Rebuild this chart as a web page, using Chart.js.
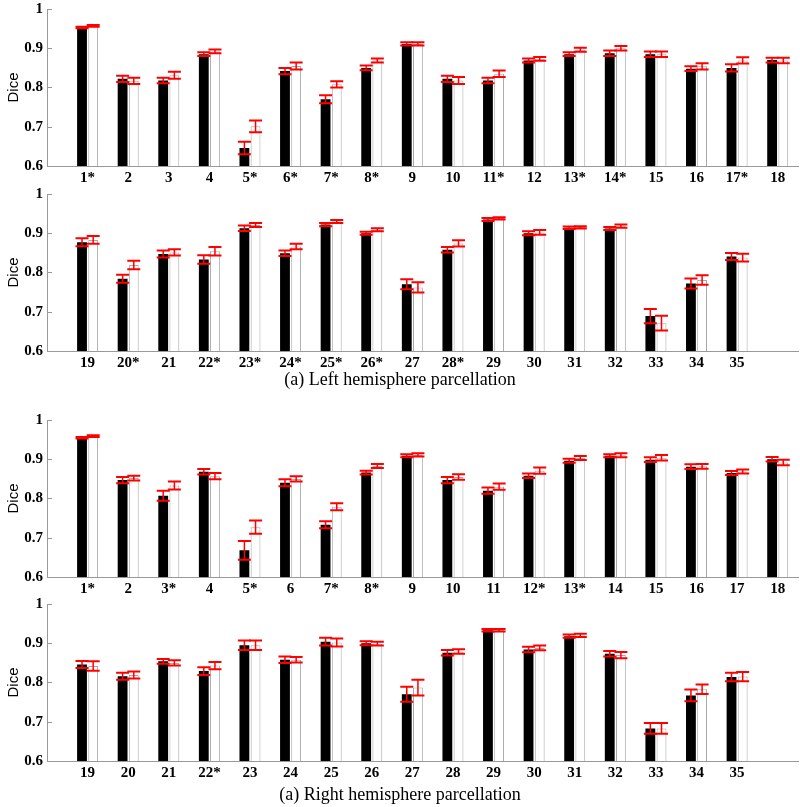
<!DOCTYPE html>
<html>
<head>
<meta charset="utf-8">
<script src="https://cdn.jsdelivr.net/npm/chart.js@4"></script>
<style>
  body { margin: 0; background: #fff; }
  #wrap { position: relative; width: 800px; height: 807px; overflow: hidden; }
  .panel { position: absolute; left: 0; }
  .caption { position: absolute; left: 0; width: 800px; text-align: center;
             font: 18px 'Liberation Serif', 'Times New Roman', serif; line-height: 20px; color: #000; }
</style>
</head>
<body>
<div id="wrap">
  <canvas class="panel" id="leftTop" width="800" height="190" style="top:-4px"></canvas>
  <canvas class="panel" id="leftBottom" width="800" height="190" style="top:181px"></canvas>
  <div class="caption" style="top:369px">(a) Left hemisphere parcellation</div>
  <canvas class="panel" id="rightTop" width="800" height="190" style="top:407px"></canvas>
  <canvas class="panel" id="rightBottom" width="800" height="190" style="top:591px"></canvas>
  <div class="caption" style="top:784px">(a) Right hemisphere parcellation</div>
</div>
<script>
// region names (asterisk = significant difference)
var leftNames1 = ['1*', '2', '3', '4', '5*', '6*', '7*', '8*', '9', '10', '11*', '12', '13*', '14*', '15', '16', '17*', '18'];
var leftNames2 = ['19', '20*', '21', '22*', '23*', '24*', '25*', '26*', '27', '28*', '29', '30', '31', '32', '33', '34', '35'];
var rightNames1 = ['1*', '2', '3*', '4', '5*', '6', '7*', '8*', '9', '10', '11', '12*', '13*', '14', '15', '16', '17', '18'];
var rightNames2 = ['19', '20', '21', '22*', '23', '24', '25', '26', '27', '28', '29', '30', '31', '32', '33', '34', '35'];

// left hemisphere, regions 1-18
var leftA1 = [0.953, 0.822, 0.818, 0.885, 0.646, 0.842, 0.770, 0.850, 0.911, 0.822, 0.818, 0.869, 0.885, 0.887, 0.885, 0.848, 0.850, 0.870];
var leftA1Err = [0.002, 0.008, 0.007, 0.005, 0.016, 0.008, 0.010, 0.006, 0.004, 0.008, 0.007, 0.005, 0.005, 0.007, 0.007, 0.006, 0.009, 0.006];
var leftB1 = [0.957, 0.817, 0.831, 0.892, 0.701, 0.855, 0.808, 0.869, 0.911, 0.818, 0.835, 0.873, 0.896, 0.900, 0.885, 0.854, 0.869, 0.869];
var leftB1Err = [0.002, 0.008, 0.009, 0.005, 0.015, 0.009, 0.008, 0.005, 0.004, 0.009, 0.008, 0.005, 0.005, 0.006, 0.007, 0.008, 0.008, 0.007];

// left hemisphere, regions 19-35
var leftA2 = [0.877, 0.784, 0.847, 0.833, 0.913, 0.849, 0.922, 0.900, 0.770, 0.858, 0.935, 0.900, 0.914, 0.912, 0.689, 0.772, 0.841];
var leftA2Err = [0.010, 0.010, 0.009, 0.011, 0.007, 0.007, 0.004, 0.004, 0.0125, 0.007, 0.004, 0.005, 0.003, 0.004, 0.018, 0.013, 0.009];
var leftB2 = [0.883, 0.819, 0.851, 0.854, 0.921, 0.866, 0.930, 0.909, 0.762, 0.874, 0.938, 0.902, 0.915, 0.918, 0.671, 0.781, 0.838];
var leftB2Err = [0.010, 0.011, 0.008, 0.011, 0.005, 0.007, 0.004, 0.004, 0.013, 0.008, 0.003, 0.006, 0.003, 0.004, 0.019, 0.012, 0.010];

// right hemisphere, regions 1-18
var rightA1 = [0.955, 0.847, 0.807, 0.868, 0.668, 0.840, 0.733, 0.866, 0.909, 0.847, 0.820, 0.858, 0.896, 0.909, 0.899, 0.881, 0.865, 0.900];
var rightA1Err = [0.002, 0.008, 0.0125, 0.007, 0.024, 0.009, 0.009, 0.005, 0.004, 0.008, 0.008, 0.006, 0.005, 0.004, 0.006, 0.006, 0.005, 0.006];
var rightB1 = [0.959, 0.852, 0.833, 0.857, 0.727, 0.850, 0.779, 0.883, 0.911, 0.855, 0.830, 0.871, 0.903, 0.910, 0.904, 0.882, 0.869, 0.892];
var rightB1Err = [0.002, 0.006, 0.010, 0.008, 0.017, 0.007, 0.009, 0.005, 0.004, 0.007, 0.008, 0.008, 0.005, 0.005, 0.007, 0.006, 0.005, 0.007];

// right hemisphere, regions 19-35
var rightA2 = [0.846, 0.816, 0.854, 0.829, 0.895, 0.858, 0.904, 0.900, 0.770, 0.876, 0.933, 0.884, 0.918, 0.873, 0.683, 0.767, 0.814];
var rightA2Err = [0.009, 0.009, 0.006, 0.010, 0.012, 0.008, 0.010, 0.005, 0.019, 0.007, 0.003, 0.007, 0.004, 0.007, 0.0135, 0.015, 0.011];
var rightB2 = [0.842, 0.819, 0.850, 0.843, 0.895, 0.858, 0.902, 0.899, 0.787, 0.879, 0.933, 0.888, 0.920, 0.870, 0.683, 0.783, 0.815];
var rightB2Err = [0.012, 0.009, 0.007, 0.009, 0.012, 0.007, 0.010, 0.005, 0.020, 0.006, 0.003, 0.006, 0.004, 0.008, 0.0135, 0.012, 0.012];

var yTicks = [0.6, 0.7, 0.8, 0.9, 1];

var serif = "'Liberation Serif', 'Times New Roman', serif";

// red error bars + inward y ticks
var errorBarPlugin = {
    id: 'errorBars',
    afterDatasetsDraw: function (chart) {
        var ctx = chart.ctx;
        var yScale = chart.scales.y;
        ctx.save();
        ctx.strokeStyle = '#ff0000';
        chart.data.datasets.forEach(function (ds, i) {
            var meta = chart.getDatasetMeta(i);
            meta.data.forEach(function (bar, j) {
                var v = ds.data[j].y, e = ds.errors[j];
                var top = yScale.getPixelForValue(v + e);
                var bot = yScale.getPixelForValue(v - e);
                ctx.lineWidth = 1.5;
                ctx.beginPath();
                ctx.moveTo(bar.x, top);
                ctx.lineTo(bar.x, bot);
                ctx.stroke();
                ctx.lineWidth = 2;
                ctx.beginPath();
                ctx.moveTo(bar.x - 6.5, top);
                ctx.lineTo(bar.x + 6.5, top);
                ctx.moveTo(bar.x - 6.5, bot);
                ctx.lineTo(bar.x + 6.5, bot);
                ctx.stroke();
            });
        });
        ctx.strokeStyle = '#999';
        ctx.lineWidth = 1;
        var left = chart.chartArea.left;
        yTicks.forEach(function (t) {
            var py = Math.round(yScale.getPixelForValue(t)) + 0.5;
            ctx.beginPath();
            ctx.moveTo(left, py);
            ctx.lineTo(left + 5, py);
            ctx.stroke();
        });
        ctx.restore();
    }
};

function makePanel(id, names, a, aErr, b, bErr) {
    var dataA = a.map(function (v, i) { return { x: i + 1, y: v }; });
    var dataB = b.map(function (v, i) { return { x: i + 1, y: v }; });
    return new Chart(document.getElementById(id), {
        type: 'bar',
        data: {
            datasets: [{
                data: dataA,
                errors: aErr,
                backgroundColor: '#000',
                borderWidth: 0
            }, {
                data: dataB,
                errors: bErr,
                backgroundColor: '#fff',
                borderColor: '#a8a8a8',
                borderWidth: 1
            }]
        },
        options: {
            responsive: false,
            animation: false,
            devicePixelRatio: 1,
            categoryPercentage: 0.55,
            barPercentage: 0.88,
            layout: { padding: { top: 8, right: 2, left: 0, bottom: 0 } },
            plugins: { legend: { display: false }, tooltip: { enabled: false } },
            scales: {
                x: {
                    type: 'linear',
                    offset: false,
                    min: 0,
                    max: 18.5,
                    grid: { display: false, drawTicks: false },
                    border: { display: true, color: '#999' },
                    afterFit: function (scale) { scale.height = 20; },
                    afterBuildTicks: function (scale) {
                        scale.ticks = names.map(function (n, i) { return { value: i + 1 }; });
                    },
                    ticks: {
                        autoSkip: false,
                        maxRotation: 0,
                        padding: 3,
                        color: '#000',
                        font: { family: serif, size: 15, weight: 'bold' },
                        callback: function (v) { return names[v - 1] || ''; }
                    }
                },
                y: {
                    min: 0.6,
                    max: 1,
                    grid: { display: false, drawTicks: false },
                    border: { display: true, color: '#999' },
                    afterFit: function (scale) { scale.width = 47; },
                    afterBuildTicks: function (scale) {
                        scale.ticks = yTicks.map(function (t) { return { value: t }; });
                    },
                    title: {
                        display: true,
                        text: 'Dice',
                        color: '#000',
                        padding: { top: 5, bottom: 0 },
                        font: { family: "'Liberation Sans', Arial, sans-serif", size: 15 }
                    },
                    ticks: {
                        padding: 4,
                        color: '#000',
                        font: { family: serif, size: 15, weight: 'bold' },
                        callback: function (v) { return String(Number(v.toFixed(1))); }
                    }
                }
            }
        },
        plugins: [errorBarPlugin]
    });
}

makePanel('leftTop', leftNames1, leftA1, leftA1Err, leftB1, leftB1Err);
makePanel('leftBottom', leftNames2, leftA2, leftA2Err, leftB2, leftB2Err);
makePanel('rightTop', rightNames1, rightA1, rightA1Err, rightB1, rightB1Err);
makePanel('rightBottom', rightNames2, rightA2, rightA2Err, rightB2, rightB2Err);
</script>
</body>
</html>
